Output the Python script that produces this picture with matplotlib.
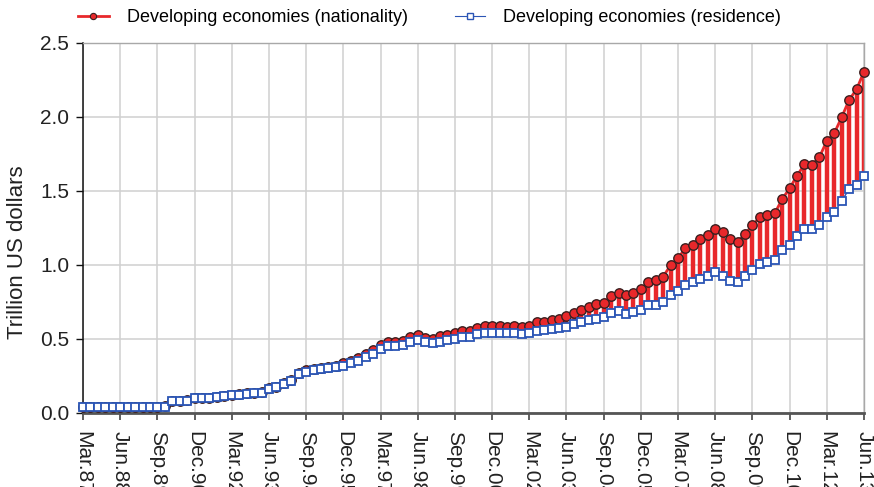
import matplotlib
matplotlib.use("Agg")
import matplotlib.pyplot as plt
from matplotlib.lines import Line2D
import numpy as np

plt.rcParams['font.family'] = ['Liberation Sans', 'DejaVu Sans']

# quarterly, Mar.87 .. Jun.13 (trillion US dollars)
nationality = [
    0.042, 0.042, 0.043, 0.043, 0.043, 0.042, 0.042, 0.042, 0.043, 0.042,
    0.042, 0.045, 0.080, 0.082, 0.085, 0.100, 0.101, 0.104, 0.111, 0.118,
    0.122, 0.127, 0.133, 0.137, 0.141, 0.168, 0.179, 0.202, 0.222, 0.272,
    0.288, 0.298, 0.305, 0.312, 0.320, 0.336, 0.351, 0.370, 0.400, 0.426,
    0.460, 0.482, 0.482, 0.489, 0.516, 0.527, 0.505, 0.498, 0.520, 0.527,
    0.539, 0.556, 0.556, 0.572, 0.588, 0.588, 0.586, 0.583, 0.588, 0.580,
    0.590, 0.612, 0.615, 0.628, 0.636, 0.653, 0.673, 0.699, 0.718, 0.734,
    0.746, 0.788, 0.809, 0.798, 0.811, 0.840, 0.883, 0.899, 0.922, 0.998,
    1.045, 1.115, 1.136, 1.176, 1.203, 1.242, 1.221, 1.176, 1.158, 1.207,
    1.270, 1.321, 1.339, 1.349, 1.445, 1.518, 1.604, 1.680, 1.677, 1.728,
    1.838, 1.890, 1.998, 2.115, 2.187, 2.306,
]
residence = [
    0.040, 0.040, 0.041, 0.041, 0.041, 0.040, 0.040, 0.040, 0.041, 0.040,
    0.040, 0.043, 0.078, 0.080, 0.083, 0.098, 0.099, 0.102, 0.108, 0.115,
    0.119, 0.124, 0.130, 0.133, 0.137, 0.164, 0.174, 0.196, 0.214, 0.265,
    0.279, 0.288, 0.295, 0.302, 0.310, 0.320, 0.336, 0.353, 0.376, 0.400,
    0.434, 0.453, 0.453, 0.460, 0.482, 0.495, 0.477, 0.473, 0.482, 0.495,
    0.498, 0.516, 0.516, 0.532, 0.543, 0.543, 0.543, 0.539, 0.543, 0.536,
    0.540, 0.556, 0.560, 0.566, 0.572, 0.583, 0.599, 0.617, 0.628, 0.633,
    0.646, 0.678, 0.689, 0.672, 0.680, 0.698, 0.730, 0.730, 0.752, 0.794,
    0.825, 0.865, 0.885, 0.908, 0.928, 0.951, 0.928, 0.894, 0.883, 0.923,
    0.968, 1.009, 1.022, 1.036, 1.100, 1.136, 1.196, 1.242, 1.242, 1.272,
    1.327, 1.357, 1.431, 1.514, 1.539, 1.600,
]
tick_labels = ["Mar.87", "Jun.88", "Sep.89", "Dec.90", "Mar.92", "Jun.93",
               "Sep.94", "Dec.95", "Mar.97", "Jun.98", "Sep.99", "Dec.00",
               "Mar.02", "Jun.03", "Sep.04", "Dec.05", "Mar.07", "Jun.08",
               "Sep.09", "Dec.10", "Mar.12", "Jun.13"]
y_ticks = [0.0, 0.5, 1.0, 1.5, 2.0, 2.5]

RED = "#e8282b"
RED_EDGE = "#3a1f1f"
BLUE = "#2b55b5"
GRID = "#d0d0d0"

x = np.arange(len(nationality))

fig = plt.figure(figsize=(8.74, 4.87), dpi=100)
ax = fig.add_axes([83 / 874, 1 - 413 / 487, 781 / 874, 370 / 487])

ax.vlines(x, residence, nationality, color=RED, lw=3.2, zorder=2)
ax.plot(x, nationality, color=RED, lw=2, marker="o", ms=6.8,
        mfc=RED, mec=RED_EDGE, mew=1.0, zorder=3, clip_on=False)
ax.plot(x, residence, color=BLUE, lw=1, marker="s", ms=5.6,
        mfc="white", mec=BLUE, mew=1.3, zorder=4, clip_on=False)

ax.set_xlim(0, len(x) - 1)
ax.set_ylim(0, 2.5)
ax.set_xticks(np.arange(0, len(x), 5))
ax.set_xticklabels(tick_labels, rotation=270, ha="center", va="top",
                   fontsize=15, color="#222222")
ax.set_yticks(y_ticks)
ax.set_yticklabels([f"{v:.1f}" for v in y_ticks], fontsize=15, color="#222222")
ax.tick_params(axis="x", direction="out", length=5, width=1.2, color="#444444", pad=8)
ax.tick_params(axis="y", direction="out", length=5, width=1, color="#111111", pad=5)
ax.set_ylabel("Trillion US dollars", fontsize=16, color="#222222")
ax.yaxis.set_label_coords(-0.071, 0.435)

ax.grid(True, color=GRID, lw=1.1, zorder=0)
ax.set_axisbelow(True)

ax.spines["left"].set_color("#111111")
ax.spines["left"].set_linewidth(1.1)
ax.spines["bottom"].set_color("#555555")
ax.spines["bottom"].set_linewidth(2)
for s in ("top", "right"):
    ax.spines[s].set_color("#a8a8a8")
    ax.spines[s].set_linewidth(1)

handles = [
    Line2D([], [], color=RED, lw=2, marker="o", ms=4.5, mfc=RED, mec=RED_EDGE, mew=0.8),
    Line2D([], [], color=BLUE, lw=0.8, marker="s", ms=4, mfc="white", mec=BLUE, mew=1),
]
fig.legend(handles, ["Developing economies (nationality)", "Developing economies (residence)"],
           loc="upper left", bbox_to_anchor=(78 / 874, 1 - 9 / 487), ncol=2, frameon=False,
           fontsize=13, handlelength=1.7, handletextpad=1.0, columnspacing=2.6,
           borderpad=0, borderaxespad=0)

fig.savefig("out.png", dpi=100)
